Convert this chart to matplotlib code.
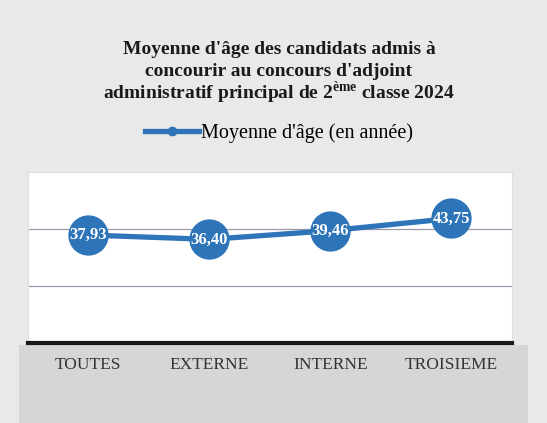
import matplotlib.pyplot as plt
from matplotlib.lines import Line2D
from matplotlib.patches import Rectangle

# --- DONNÉES ---
categories = ['TOUTES', 'EXTERNE', 'INTERNE', 'TROISIEME']
moyennes = [37.93, 36.40, 39.46, 43.75]
etiquettes = ['37,93', '36,40', '39,46', '43,75']
titre = ["Moyenne d'âge des candidats admis à",
         "concourir au concours d'adjoint",
         "administratif principal de 2$^{\\mathbf{ème}}$ classe 2024"]

BLEU = '#2e74b8'

plt.rcParams['font.family'] = ['Liberation Serif', 'DejaVu Serif']
plt.rcParams['mathtext.fontset'] = 'custom'
plt.rcParams['mathtext.rm'] = 'Liberation Serif'
plt.rcParams['mathtext.bf'] = 'Liberation Serif:bold'

fig = plt.figure(figsize=(5.47, 4.23), dpi=100, facecolor='#e9e9e9')

# bande grise sous l'axe (étiquettes)
fig.patches.append(Rectangle((0.035, 0.0), 0.93, 0.185, transform=fig.transFigure,
                             facecolor='#d6d6d6', edgecolor='none', zorder=-1))

ax = fig.add_axes([0.051, 0.189, 0.885, 0.404])
ax.set_facecolor('white')

x = range(len(categories))
ax.plot(x, moyennes, color=BLEU, linewidth=3.8, marker='o', markersize=28,
        markerfacecolor=BLEU, markeredgecolor=BLEU, zorder=3)
for xi, yi, txt in zip(x, moyennes, etiquettes):
    ax.text(xi, yi, txt, ha='center', va='center', color='white',
            fontsize=12, fontweight='bold', zorder=4)

ax.set_xlim(-0.5, 3.5)
ax.set_ylim(0, 60)
ax.set_yticks([20, 40])
ax.set_yticklabels([])
ax.tick_params(axis='y', length=0)
ax.grid(axis='y', color='#9a9aaa', linewidth=0.9)
ax.set_axisbelow(True)

ax.set_xticks(list(x))
ax.set_xticklabels(categories, fontsize=12.5, color='#333333')
ax.tick_params(axis='x', length=0, pad=10)

for s in ['top', 'left', 'right']:
    ax.spines[s].set_color('#dddddd')
ax.spines['bottom'].set_color('#1a1a1a')
ax.spines['bottom'].set_linewidth(3)

# titre, une ligne à la fois
for ligne, yb in zip(titre, [0.873, 0.820, 0.766]):
    fig.text(0.51, yb, ligne, ha='center', va='baseline', fontsize=14,
             fontweight='bold', color='#1a1a1a')

# légende
poignee = Line2D([], [], color=BLEU, linewidth=3.8, marker='o', markersize=6)
fig.legend([poignee], ["Moyenne d'âge (en année)"], loc='center',
           bbox_to_anchor=(0.51, 0.685), frameon=False, fontsize=14.5,
           handlelength=2.7, handletextpad=0.1)

plt.savefig('out.png', dpi=100, facecolor=fig.get_facecolor())
